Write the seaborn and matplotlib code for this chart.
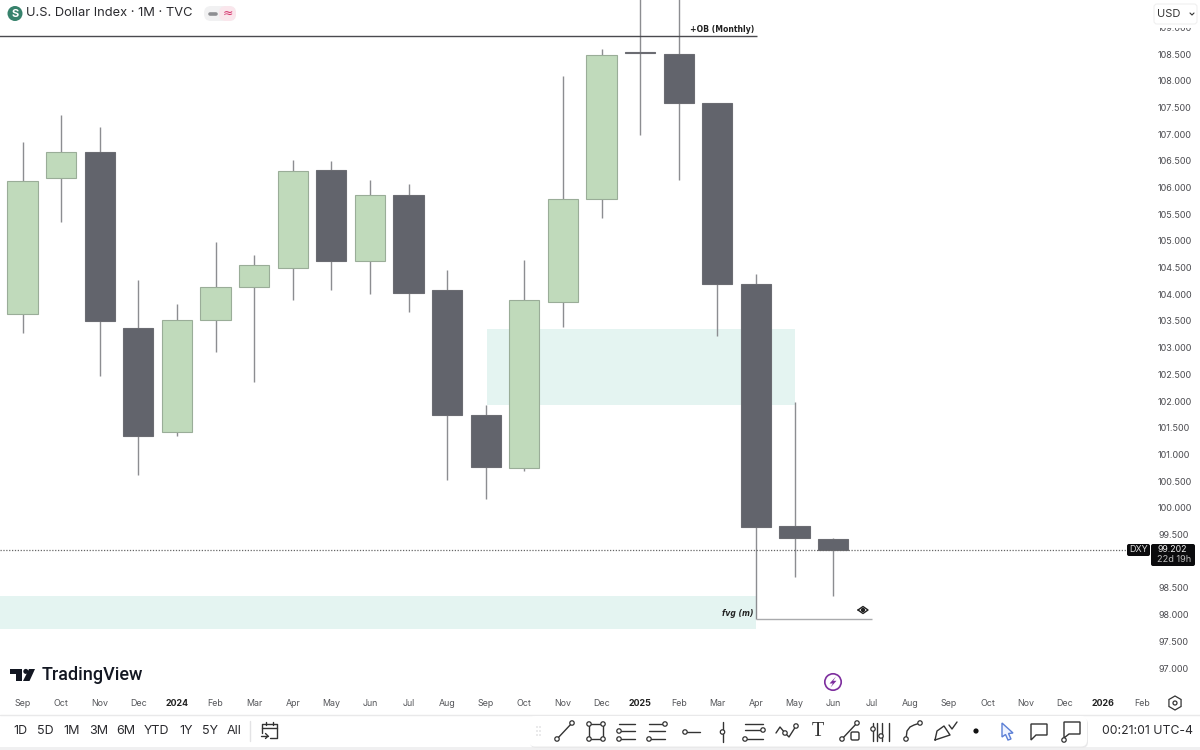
import matplotlib
matplotlib.use("Agg")
import matplotlib.pyplot as plt
from matplotlib.patches import Rectangle, FancyBboxPatch, Circle, Polygon
import numpy as np
import pandas as pd
import seaborn as sns

# monthly candles, Sep 2023 to Jun 2025
opens = [103.63, 106.18, 106.66, 103.37, 101.42, 103.52, 104.14, 104.49, 106.33, 104.62, 105.86,
         104.08, 101.74, 100.75, 103.86, 105.78, 108.54, 108.50, 107.58, 104.19, 99.66, 99.42]
closes = [106.12, 106.66, 103.50, 101.35, 103.52, 104.14, 104.55, 106.31, 104.62, 105.86, 104.02,
          101.74, 100.76, 103.89, 105.78, 108.48, 108.51, 107.58, 104.19, 99.64, 99.43, 99.202]
highs = [106.85, 107.36, 107.13, 104.27, 103.82, 104.98, 104.74, 106.51, 106.50, 106.14, 106.07,
         104.45, 101.93, 104.64, 108.09, 108.59, 110.18, 109.88, 107.58, 104.38, 101.98, 99.43]
lows = [103.27, 105.35, 102.47, 100.61, 101.35, 102.92, 102.36, 103.89, 104.08, 104.00, 103.67,
        100.52, 100.17, 100.69, 103.39, 105.43, 106.98, 106.14, 103.22, 97.92, 98.70, 98.35]

month_labels = ["Sep", "Oct", "Nov", "Dec", "2024", "Feb", "Mar", "Apr", "May", "Jun", "Jul", "Aug",
                "Sep", "Oct", "Nov", "Dec", "2025", "Feb", "Mar", "Apr", "May", "Jun", "Jul", "Aug",
                "Sep", "Oct", "Nov", "Dec", "2026", "Feb"]
# 99.000 sits behind the last price tag in the app, so it gets no label
price_ticks = [97 + 0.5 * i for i in range(25) if 97 + 0.5 * i != 99]
range_buttons = ["1D", "5D", "1M", "3M", "6M", "YTD", "1Y", "5Y", "All"]
last_price = 99.202

df = pd.DataFrame({"idx": range(len(opens)), "open": opens, "close": closes, "high": highs, "low": lows})
df["bottom"] = df[["open", "close"]].min(axis=1)
df["size"] = (df["close"] - df["open"]).abs()
df["up"] = df["close"] > df["open"]

sns.set_theme(style="white")
plt.rcParams["font.family"] = ["Inter", "DejaVu Sans"]

UP = "#c0dabb"
DOWN = "#62646c"
TEAL = "#089981"
GREY = "#4a4a4f"

fig = plt.figure(figsize=(12, 7.5), dpi=100, facecolor="white")
ax = fig.add_axes([0, 60 / 750, 1150 / 1200, 690 / 750])

# wicks go under the bodies
ax.vlines(df["idx"], df["low"], df["high"], colors="#8c8d91", linewidth=1.0, zorder=0.5)

for is_up, color, edge in [(True, UP, "#9aad98"), (False, DOWN, "#6b6c72")]:
    sub = df[df["up"] == is_up]
    sns.barplot(data=sub, x="idx", y="size", native_scale=True, bottom=sub["bottom"].values,
                color=color, saturation=1, edgecolor=edge, linewidth=0.8,
                errorbar=None, width=0.78, ax=ax)

ax.set_xlim(-22.5 / 38.6, (1150 - 22.5) / 38.6)
ax.set_ylim(97 - 22 / 53.39, 97 + 668 / 53.39)
ax.set_xlabel("")
ax.set_ylabel("")
for side in ax.spines:
    ax.spines[side].set_visible(False)

# zones
ax.add_patch(Rectangle((12.03, 101.93), 7.97, 103.35 - 101.93, color=TEAL, alpha=0.105, lw=0, zorder=0.2))
ax.add_patch(Rectangle((-1, 97.73), 20, 98.34 - 97.73, color=TEAL, alpha=0.105, lw=0, zorder=0.2))

# drawings
ax.hlines(108.84, -1, 19.02, colors=GREY, linewidth=1, zorder=4)
ax.text(18.95, 108.87, "+OB (Monthly)", ha="right", va="bottom", fontsize=5.6, fontweight="bold",
        color="#222", family=["DejaVu Sans"])
ax.hlines(97.92, 19, 22.0, colors="#a9aaad", linewidth=1, zorder=4)
ax.text(18.95, 98.03, "fvg (m)", ha="right", va="center", fontsize=5.5, fontweight="bold",
        fontstyle="italic", color="#222", family=["DejaVu Sans"])
ax.axhline(last_price, color="#666", linewidth=0.9, linestyle=(0, (1, 1.3)), zorder=4)

ax.yaxis.tick_right()
ax.set_yticks(price_ticks)
ax.set_yticklabels(["%.3f" % p for p in price_ticks])
ax.tick_params(axis="y", length=0, pad=5.8, labelsize=6.5, labelcolor="#4a4a4f")
ax.set_xticks(range(len(month_labels)))
ax.set_xticklabels(month_labels)
ax.tick_params(axis="x", length=0, pad=6.3, labelsize=6.4, labelcolor="#55565a")
for lab in ax.get_xticklabels():
    if lab.get_text().startswith("20"):
        lab.set_fontweight("bold")
        lab.set_color("#222")

# overlay in pixel coordinates for the app chrome
ui = fig.add_axes([0, 0, 1, 1], facecolor="none")
ui.set_xlim(0, 1200)
ui.set_ylim(750, 0)
ui.axis("off")


def ln(xs, ys, c="#333", lw=1.0, **kw):
    ui.plot(xs, ys, color=c, lw=lw, solid_capstyle="round", **kw)


def dot(x, y, r=2.2, c="#333", fill="white", lw=0.9):
    ui.add_patch(Circle((x, y), r, facecolor=fill, edgecolor=c, lw=lw, zorder=6))


def box(x0, y0, x1, y1, r=2, fc="white", ec="none", lw=0.8, z=5):
    ui.add_patch(FancyBboxPatch((x0 + r, y0 + r), x1 - x0 - 2 * r, y1 - y0 - 2 * r,
                                boxstyle="round,pad=%g,rounding_size=%g" % (r, r),
                                fc=fc, ec=ec, lw=lw, zorder=z))


# header
ui.add_patch(Circle((15, 13.5), 7.5, color="#37826c", lw=0))
ui.text(15, 13.7, "S", ha="center", va="center", color="white", fontsize=8, fontweight="bold")
ui.text(26, 13.5, "U.S. Dollar Index · 1M · TVC", va="center", fontsize=9.25, color="#2a2a2e")
box(204, 6, 236, 21, r=7, fc="#f1f1f2")
box(219, 6, 236, 21, r=7, fc="#fae6ec")
ln([210, 216], [13.5, 13.5], c="#8d8e92", lw=2.6, zorder=6)
ui.text(227.5, 13, "≈", ha="center", va="center", fontsize=9, color="#d6336c", family=["DejaVu Sans"], zorder=6)
ui.add_patch(Rectangle((1150, 0), 50, 28, color="white", lw=0, zorder=4))
box(1154, 4, 1197, 24, r=3, fc="white", ec="#f0f0f0")
ui.text(1157, 14, "USD", va="center", fontsize=8, color="#333", zorder=6)
ln([1190, 1192, 1194], [13, 15, 13], c="#333", lw=0.8, zorder=6)

# eye marker on the drawing
ln([858, 863, 868, 863, 858], [610, 606.5, 610, 613.5, 610], c="#222", lw=1, zorder=6)
dot(863, 610, r=1.5, c="#222", fill="#222")

# last price tags
box(1127, 544, 1150, 556, r=2, fc="#0b0b0d")
ui.text(1138.5, 550, "DXY", ha="center", va="center", fontsize=6.5, color="#ddd", zorder=6)
box(1151, 544, 1195, 566, r=2, fc="#0b0b0d")
ui.text(1157, 550, "%.3f" % last_price, va="center", fontsize=6.3, color="#eee", zorder=6)
ui.text(1157, 560, "22d 19h", va="center", fontsize=6.6, color="#bbb", zorder=6)

# logo
ui.add_patch(Polygon([[10, 669], [22, 669], [22, 681], [16, 681], [16, 674], [10, 674]], color="#131722", lw=0))
ui.add_patch(Circle((25.8, 671.4), 2.5, color="#131722", lw=0))
ui.add_patch(Polygon([[29, 669], [35, 669], [29.5, 681], [23, 681]], color="#131722", lw=0))
ui.text(42, 675, "TradingView", va="center", fontsize=13, fontweight="medium", color="#131722",
        family=["Roboto"])

# lightning badge and axis settings
ui.add_patch(Circle((833, 682), 8.2, fc="white", ec="#7d2e9e", lw=1.2))
ui.add_patch(Polygon([[836, 676.5], [829.5, 683.5], [832.8, 683.5], [830.5, 687.5], [836.5, 680.8], [833.2, 680.8]],
                     color="#7d2e9e", lw=0))
ui.add_patch(Polygon([[1175 + 7 * np.sin(a), 703 + 7 * np.cos(a)] for a in np.arange(6) * np.pi / 3],
                     fc="white", ec="#333", lw=0.9))
dot(1175, 703, r=2, c="#333")

# bottom bar
ln([0, 1200], [714.5, 714.5], c="#e9e9ea", lw=1)
ui.add_patch(Rectangle((0, 747), 1200, 3, color="#f0f0f1", lw=0))
for label, x in zip(range_buttons, [20, 45, 72, 99, 126, 156, 186, 210, 234]):
    ui.text(x, 731, label, ha="center", va="center", fontsize=9, color="#2a2a2e")
ln([249.5, 249.5], [721, 741], c="#e3e3e5", lw=1)
# calendar button
ln([262, 262, 277, 277, 270], [733, 724, 724, 738, 738], c="#333", lw=1)
ln([262, 277], [727.5, 727.5], c="#333", lw=1)
ln([266, 266], [722, 725], c="#333", lw=1)
ln([273, 273], [722, 725], c="#333", lw=1)
ln([261, 268], [736, 736], c="#333", lw=1)
ln([265.5, 268, 265.5], [733.5, 736, 738.5], c="#333", lw=1)

# drawing toolbar
box(530, 718, 1088, 748, r=6, fc="#e9e9ea", z=4)
box(529, 716, 1087, 746.5, r=6, fc="white", z=4.5)
for x in (537, 540):
    for y in (727, 731, 735):
        ui.add_patch(Circle((x, y), 0.7, color="#c9c9cc", lw=0, zorder=6))


def seg(x0, y0, x1, y1, c="#333", lw=1.0):
    ui.plot([x0, x1], [y0, y1], color=c, lw=lw, zorder=5.5)


# trend line
seg(557, 739, 572, 723)
dot(557, 739)
dot(572, 723)
# rectangle
ui.add_patch(Rectangle((589, 724), 14, 15, fc="none", ec="#333", lw=1, zorder=5.5))
for px, py in [(589, 724), (603, 724), (589, 739), (603, 739)]:
    dot(px, py)
# two fib tools
for x0 in (619, 650 - 1):
    for y in (724, 731, 739):
        seg(x0, y, x0 + 16, y)
    dot(x0 + 16 if x0 > 640 else x0, 731 if x0 < 640 else 724)
    dot(x0, 739)
# horizontal ray, vertical line
seg(685, 732, 700, 732)
dot(685, 732)
seg(722.5, 722, 722.5, 742)
dot(722.5, 732)
# parallel lines
for y in (724, 730, 739):
    seg(745, y, 763, y)
dot(763, 730)
dot(745, 739)
# path
ui.plot([776, 780, 785, 789, 796], [733, 727, 733, 737, 726], color="#333", lw=1, zorder=5.5)
dot(785, 733)
dot(796, 726)
# text tool
ui.text(817.5, 732, "T", ha="center", va="center", fontsize=14.5, color="#333", zorder=6,
        family=["Liberation Serif"])
# note/line tool
seg(842, 739, 857, 723)
dot(842, 739)
dot(857, 723)
box(851, 732, 859, 740, r=1.5, fc="white", ec="#333", lw=1, z=5.6)
# sliders
for x, y0, y1 in [(873, 723, 741), (877, 723, 741), (882, 723, 741), (889, 723, 741)]:
    seg(x, y0, x, y1)
dot(873, 729)
dot(881, 736)
# curve
ui.plot([906, 907, 910, 914, 920], [739, 731, 727, 725, 723], color="#333", lw=1, zorder=5.5)
dot(906, 739)
dot(920, 723)
# brush
ui.plot([935, 937, 944, 950, 935], [740, 731, 726, 735, 740], color="#333", lw=1, zorder=5.5)
ui.plot([949, 952, 957], [725, 729, 722], color="#333", lw=1, zorder=5.5)
# dot
ui.add_patch(Circle((976, 731), 2.6, color="#111", lw=0, zorder=6))
# cursor
ui.add_patch(Polygon([[1002, 723], [1013, 733], [1008.5, 733.5], [1011, 739], [1008, 740], [1005.5, 734.5], [1002, 737]],
                     fc="#eef3ff", ec="#5b7fd6", lw=1, zorder=6))
# comment boxes
ui.add_patch(Polygon([[1031, 724], [1047, 724], [1047, 735], [1036, 735], [1031, 740]],
                     fc="white", ec="#333", lw=1, zorder=6))
ui.add_patch(Polygon([[1064, 722], [1080, 722], [1080, 734], [1069, 734], [1064, 738]],
                     fc="white", ec="#333", lw=1, zorder=6))
dot(1064, 740)

ui.text(1102, 731, "00:21:01 UTC-4", va="center", fontsize=8.8, color="#2a2a2e")

fig.savefig("out.png", dpi=100)
